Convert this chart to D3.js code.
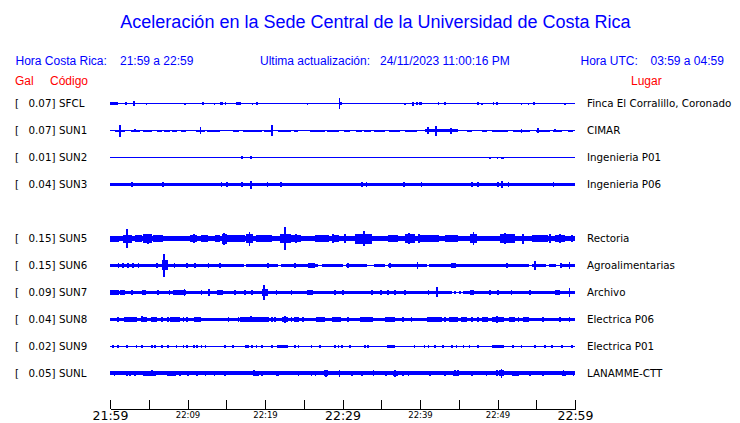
<!DOCTYPE html>
<html><head><meta charset="utf-8">
<script src="https://cdn.jsdelivr.net/npm/d3@7/dist/d3.min.js"></script>
<style>body{margin:0;background:#fff}svg{display:block}</style>
</head><body><svg id="c" width="740" height="423"></svg>
<script>
// ---------- data ----------
const title = "Aceleración en la Sede Central de la Universidad de Costa Rica";
const horaCR = "21:59 a 22:59";
const updated = "24/11/2023 11:00:16 PM";
const horaUTC = "03:59 a 04:59";

const codes  = ["SFCL","SUN1","SUN2","SUN3","","SUN5","SUN6","SUN7","SUN8","SUN9","SUNL"];
const gals   = [0.07,0.07,0.01,0.04,null,0.15,0.15,0.09,0.04,0.02,0.05];
const places = ["Finca El Corralillo, Coronado","CIMAR","Ingenieria P01","Ingenieria P06","",
                "Rectoria","Agroalimentarias","Archivo","Electrica P06","Electrica P01","LANAMME-CTT"];
// background noise level of each trace (Gal)
const baseNoise = [0.004,0.004,0.004,0.022,null,0.03,0.02,0.022,0.022,0.004,0.022];

// time axis (minutes after 21:59)
const tickMinutes = [0,5,10,15,20,25,30,35,40,45,50,55,60];
const tickLabels  = ["21:59","","22:09","","22:19","","22:29","","22:39","","22:49","","22:59"];
const bigLabels   = ["21:59","22:29","22:59"];

// spikes: [minute, amplitude Gal]
const spikesSFCL = [[2.1,0.015],[3.1,0.032],[4.7,0.01],[9.7,0.01],[12.0,0.02],[13.5,0.01],[14.9,0.015],[16.8,0.015],
  [18.4,0.01],[19.0,0.015],[25.5,0.012],[29.6,0.067],[29.8,0.02],[38.1,0.01],[39.1,0.022],[39.6,0.015],[42.4,0.015],
  [43.2,0.015],[47.5,0.015],[48.0,0.01],[49.5,0.015],[49.9,0.015],[53.1,0.01],[54.0,0.01],[54.7,0.015],[58.7,0.01]];
const spikesSUN1 = [[1.3,0.072],[3.2,0.02],[11.7,0.045],[20.9,0.064],[41.0,0.04],[42.1,0.06],[44.0,0.035],[53.1,0.025],[55.2,0.03],[57.4,0.02]];
const spikesSUN2 = [[5.4,0.01],[6.4,0.01],[17.0,0.022],[18.0,0.01],[18.2,0.022],[22.1,0.008],[22.7,0.008],[25.9,0.01],
  [45.2,0.008],[49.0,0.012],[50.0,0.012],[59.8,0.008]];
const spikesSUN3 = [[2.8,0.026],[6.8,0.026],[14.4,0.026],[15.1,0.026],[17.0,0.03],[18.2,0.048],[20.3,0.026],[22.1,0.03],
  [32.5,0.028],[33.1,0.032],[37.9,0.026],[40.2,0.026],[46.7,0.026],[47.5,0.026],[50.1,0.032],[50.6,0.042],[51.4,0.032],[57.2,0.026]];
const spikesSUN5 = [[2.2,0.115],[4.9,0.06],[6.0,0.045],[10.8,0.05],[14.7,0.072],[18.0,0.084],[22.6,0.136],[24.0,0.05],
  [28.8,0.055],[30.3,0.05],[32.8,0.088],[38.6,0.065],[39.9,0.05],[46.9,0.08],[51.0,0.07],[53.3,0.06],[56.8,0.055],[58.1,0.05],[59.6,0.045]];
const spikesSUN6 = [[1.1,0.028],[1.7,0.028],[2.3,0.03],[3.0,0.028],[3.7,0.028],[6.1,0.035],[7.0,0.135],[8.3,0.03],[9.9,0.028],
  [11.0,0.028],[12.7,0.026],[14.2,0.026],[20.4,0.03],[23.9,0.03],[30.7,0.03],[36.1,0.028],[39.7,0.04],[44.3,0.03],[51.2,0.03],
  [54.8,0.056],[58.2,0.035],[59.3,0.04]];
const spikesSUN7 = [[2.8,0.025],[6.2,0.03],[7.7,0.035],[8.4,0.035],[9.6,0.04],[11.8,0.026],[12.8,0.04],[16.1,0.028],[17.4,0.028],
  [18.3,0.028],[19.9,0.09],[21.5,0.03],[23.4,0.032],[29.0,0.03],[30.1,0.03],[33.8,0.028],[35.0,0.028],[35.9,0.03],[36.8,0.028],
  [38.1,0.028],[41.1,0.03],[42.2,0.06],[46.7,0.032],[49.0,0.028],[50.1,0.028],[51.8,0.028],[54.2,0.03],[59.3,0.05]];
const spikesSUN8 = [[1.0,0.03],[1.9,0.03],[2.4,0.03],[2.8,0.03],[3.2,0.03],[4.1,0.035],[4.7,0.03],[5.4,0.03],[5.8,0.03],[6.7,0.03],
  [7.5,0.03],[8.0,0.03],[8.4,0.03],[8.8,0.03],[9.5,0.03],[9.9,0.03],[11.0,0.03],[11.6,0.03],[15.3,0.03],[16.6,0.03],[17.0,0.03],
  [18.2,0.035],[18.9,0.03],[19.6,0.03],[20.9,0.03],[21.3,0.03],[22.6,0.042],[23.4,0.03],[24.1,0.03],[24.9,0.03],[26.9,0.03],
  [27.5,0.03],[29.0,0.03],[29.5,0.03],[30.7,0.03],[32.5,0.03],[32.9,0.03],[33.8,0.03],[35.9,0.03],[36.6,0.03],[37.8,0.03],
  [38.9,0.03],[41.1,0.03],[41.9,0.03],[42.4,0.03],[43.2,0.03],[44.5,0.032],[45.6,0.03],[46.7,0.03],[47.5,0.03],[48.4,0.03],
  [49.9,0.04],[50.7,0.03],[51.8,0.03],[52.7,0.03],[53.5,0.03],[55.9,0.03],[58.1,0.03],[59.3,0.03]];
const spikesSUN9 = [[0.4,0.015],[1.0,0.015],[2.2,0.015],[3.4,0.015],[4.1,0.015],[5.4,0.015],[5.8,0.015],[6.7,0.015],[7.5,0.015],
  [8.6,0.015],[9.5,0.015],[9.9,0.015],[10.8,0.015],[11.2,0.015],[11.8,0.015],[12.3,0.015],[14.8,0.015],[15.9,0.015],[18.3,0.02],
  [18.9,0.015],[19.6,0.015],[20.9,0.015],[23.9,0.015],[24.3,0.015],[26.0,0.015],[27.1,0.015],[29.0,0.015],[29.5,0.018],[29.9,0.015],
  [31.0,0.015],[32.9,0.015],[33.3,0.015],[39.3,0.015],[40.6,0.015],[41.1,0.015],[41.9,0.015],[43.0,0.015],[44.1,0.015],[44.7,0.015],
  [45.6,0.015],[46.4,0.015],[47.5,0.015],[50.0,0.02],[52.0,0.015],[53.1,0.015],[54.8,0.015],[56.1,0.015],[57.0,0.015],[58.3,0.015],[59.6,0.015]];
const spikesSUNL = [[0.6,0.028],[2.2,0.028],[2.6,0.028],[3.2,0.028],[4.5,0.03],[5.4,0.035],[5.8,0.03],[7.5,0.03],[8.0,0.03],
  [9.0,0.03],[10.1,0.028],[11.2,0.028],[12.3,0.028],[13.5,0.028],[14.8,0.028],[18.6,0.035],[19.1,0.028],[19.6,0.028],[21.5,0.028],
  [21.7,0.028],[24.3,0.028],[26.0,0.03],[26.5,0.03],[27.9,0.045],[29.6,0.045],[31.2,0.028],[32.5,0.028],[34.0,0.035],[35.6,0.03],
  [36.8,0.04],[37.8,0.028],[38.5,0.028],[41.3,0.028],[43.2,0.028],[44.5,0.035],[44.9,0.035],[46.7,0.03],[48.6,0.03],[49.9,0.035],
  [50.5,0.055],[52.0,0.03],[52.7,0.03],[54.2,0.028],[55.9,0.028],[58.5,0.035],[59.8,0.028]];

// bursts: [start minute, end minute, amplitude Gal]
const burstsSFCL = [[0,1.0,0.018],[14.2,14.6,0.018],[16.2,16.6,0.018],[39.9,40.2,0.018]];
const burstsSUN1 = [[0.6,1.9,0.012],[2.7,3.9,0.012],[4.2,5.4,0.012],[6.0,6.7,0.012],[7.0,7.7,0.012],[8.0,8.6,0.012],[9.2,9.8,0.012],
  [11.1,12.3,0.012],[12.5,14.2,0.012],[15.9,16.6,0.012],[17.2,19.6,0.012],[19.9,20.9,0.012],[21.7,23.4,0.012],[23.7,24.3,0.012],
  [25.8,27.7,0.012],[28.0,29.5,0.012],[30.2,31.0,0.012],[31.7,32.5,0.012],[32.8,33.7,0.012],[34.0,35.5,0.012],[36.0,37.4,0.012],
  [38.1,39.6,0.012],[40.6,44.9,0.014],[46.0,46.7,0.012],[48.0,48.6,0.012],[49.3,51.4,0.012],[52.0,54.2,0.012],[55.0,56.8,0.012],
  [57.2,58.3,0.012],[59.1,59.8,0.012]];
const burstsSUN2 = [[50.5,50.9,0.012]];
const burstsSUN3 = [];
const burstsSUN5 = [[0,1.1,0.036],[1.7,2.8,0.048],[3.2,4.1,0.04],[4.3,5.4,0.054],[5.6,6.9,0.038],[10.3,11.2,0.04],[11.8,12.7,0.038],
  [13.5,14.2,0.038],[14.4,15.1,0.06],[15.1,17.4,0.045],[17.6,18.5,0.05],[18.9,20.9,0.04],[21.9,23.4,0.055],[23.4,24.7,0.04],
  [26.4,28.2,0.045],[28.6,29.5,0.04],[31.6,33.8,0.06],[33.8,35.0,0.035],[35.9,37.2,0.04],[38.1,39.3,0.05],[39.8,42.4,0.038],
  [43.2,44.9,0.04],[46.4,47.3,0.055],[50.3,52.2,0.05],[54.4,56.5,0.04],[57.4,58.7,0.04]];
const burstsSUN6 = [[6.7,7.5,0.06],[25.6,26.4,0.035],[44.0,44.7,0.03]];
const burstsSUN7 = [[0,1.1,0.03],[1.3,1.9,0.028],[4.1,4.7,0.032],[8.1,9.8,0.03],[13.8,14.6,0.032],[19.6,20.4,0.04],[25.4,26.2,0.03],
  [46.4,47.0,0.03],[57.4,58.0,0.032]];
const burstsSUN8 = [[1.9,3.5,0.028],[4.0,4.6,0.03],[5.4,6.0,0.028],[7.8,9.0,0.028],[10.8,11.7,0.028],[16.8,20.5,0.026],[22.2,23.0,0.032],
  [23.8,24.4,0.028],[26.6,27.7,0.028],[28.6,29.8,0.026],[32.2,33.8,0.028],[35.5,36.8,0.028],[40.9,42.8,0.028],[43.8,44.9,0.032],
  [45.3,46.0,0.026],[48.0,48.8,0.026],[49.3,50.9,0.034],[51.5,52.2,0.026],[53.3,54.0,0.026]];
const burstsSUN9 = [[17.4,17.9,0.014],[21.5,23.0,0.014],[35.7,36.8,0.014],[49.3,50.9,0.014]];
const burstsSUNL = [[4.3,5.8,0.028],[7.5,8.5,0.028],[18.4,19.0,0.03],[27.6,28.1,0.035],[36.5,37.2,0.03],[44.3,45.0,0.03],
  [50.2,50.9,0.035],[52.0,52.8,0.028],[58.3,58.8,0.03]];

// quiet stretches where the noise band drops to the bare line: [start, end]
const gapsSUN6 = [[17.3,17.5],[21.7,22.0],[26.9,27.3],[30.0,30.4],[33.1,34.0],[35.5,35.9],[40.9,41.2],[54.0,54.4],[56.3,56.6],[57.6,58.1]];
const gapsSUN7 = [[44.1,44.4],[44.7,45.0],[45.3,45.6]];

const spikes = [spikesSFCL,spikesSUN1,spikesSUN2,spikesSUN3,[],spikesSUN5,spikesSUN6,spikesSUN7,spikesSUN8,spikesSUN9,spikesSUNL];
const bursts = [burstsSFCL,burstsSUN1,burstsSUN2,burstsSUN3,[],burstsSUN5,burstsSUN6,burstsSUN7,burstsSUN8,burstsSUN9,burstsSUNL];
const gaps   = [[],[],[],[],[],[],gapsSUN6,gapsSUN7,[],[],[]];

// ---------- drawing ----------
const svg = d3.select("#c");
const BLUE = "#0000ff", RED = "#ff0000";
const SANS = "'Liberation Sans', Arial, Helvetica, sans-serif";
const DV = "'DejaVu Sans', sans-serif";

const x = d3.scaleLinear().domain([0,60]).range([110,575]);
const yRow = d3.scalePoint().domain(codes.map((c,i)=>i)).range([103.7,373.3]);
const amp = d3.scaleLinear().domain([0,0.15]).range([0,12.5]);

svg.append("text").attr("x",375.5).attr("y",28).attr("text-anchor","middle")
  .attr("font-family",SANS).attr("font-size",18).attr("fill",BLUE).text(title);

const hdr = svg.append("g").attr("font-family",SANS).attr("font-size",12);
hdr.append("text").attr("x",15.5).attr("y",65).attr("fill",BLUE).text("Hora Costa Rica:");
hdr.append("text").attr("x",120).attr("y",65).attr("fill",BLUE).text(horaCR);
hdr.append("text").attr("x",260).attr("y",65).attr("fill",BLUE).text("Ultima actualización:");
hdr.append("text").attr("x",380).attr("y",65).attr("fill",BLUE).text(updated);
hdr.append("text").attr("x",580.5).attr("y",65).attr("fill",BLUE).text("Hora UTC:");
hdr.append("text").attr("x",650.5).attr("y",65).attr("fill",BLUE).text(horaUTC);
hdr.append("text").attr("x",15).attr("y",85).attr("fill",RED).text("Gal");
hdr.append("text").attr("x",50).attr("y",85).attr("fill",RED).text("Código");
hdr.append("text").attr("x",631).attr("y",85).attr("fill",RED).text("Lugar");

// labels
const lab = svg.append("g").attr("font-family",DV).attr("font-size",10.3).attr("fill","#000");
codes.forEach((c,i)=>{
  if(!c) return;
  const y = yRow(i)+3.2;
  lab.append("text").attr("x",15).attr("y",y).text("[");
  lab.append("text").attr("x",55.5).attr("y",y).attr("text-anchor","end").text(gals[i].toFixed(2)+"]");
  lab.append("text").attr("x",59).attr("y",y).text(c);
  lab.append("text").attr("x",587).attr("y",y).text(places[i]);
});

// traces
const tr = svg.append("g").attr("fill",BLUE).attr("stroke",BLUE).attr("shape-rendering","crispEdges");
codes.forEach((c,i)=>{
  if(!c) return;
  const y0 = yRow(i);
  const g = tr.append("g");
  const gs = gaps[i].slice().sort((a,b)=>a[0]-b[0]);
  const pieces = []; let s = 0;
  gs.forEach(gp=>{ pieces.push([s,gp[0]]); s = gp[1]; });
  pieces.push([s,60]);
  const b = baseNoise[i];
  g.selectAll("rect.band").data(pieces).join("rect").attr("class","band").attr("stroke","none")
    .attr("x",d=>x(d[0])).attr("width",d=>x(d[1])-x(d[0]))
    .attr("y",y0-amp(b)).attr("height",Math.max(1,2*amp(b)));
  g.append("line").attr("x1",x(0)).attr("x2",x(60)).attr("y1",y0).attr("y2",y0).attr("stroke-width",1.2);
  g.selectAll("rect.burst").data(bursts[i]).join("rect").attr("class","burst").attr("stroke","none")
    .attr("x",d=>x(d[0])).attr("width",d=>Math.max(1.5,x(d[1])-x(d[0])))
    .attr("y",d=>y0-amp(d[2])).attr("height",d=>2*amp(d[2]));
  g.selectAll("line.spk").data(spikes[i]).join("line").attr("class","spk")
    .attr("x1",d=>x(d[0])).attr("x2",d=>x(d[0]))
    .attr("y1",d=>y0-amp(d[1])).attr("y2",d=>y0+amp(d[1])).attr("stroke-width",1.6);
});

// time axis
const axis = d3.axisBottom(x).tickValues(tickMinutes).tickSize(-9).tickSizeOuter(0)
  .tickFormat((d,i)=>tickLabels[i]);
const ax = svg.append("g").attr("transform","translate(0,409)").call(axis);
ax.select(".domain").attr("stroke","#000").attr("shape-rendering","crispEdges");
ax.selectAll(".tick line").attr("stroke","#000").attr("shape-rendering","crispEdges");
ax.selectAll(".tick text").attr("fill","#000").attr("font-family",DV)
  .attr("dy",null)
  .attr("font-size",(d,i)=>bigLabels.includes(tickLabels[i])?12.5:8.5)
  .attr("y",(d,i)=>bigLabels.includes(tickLabels[i])?11:9.3);
</script></body></html>
